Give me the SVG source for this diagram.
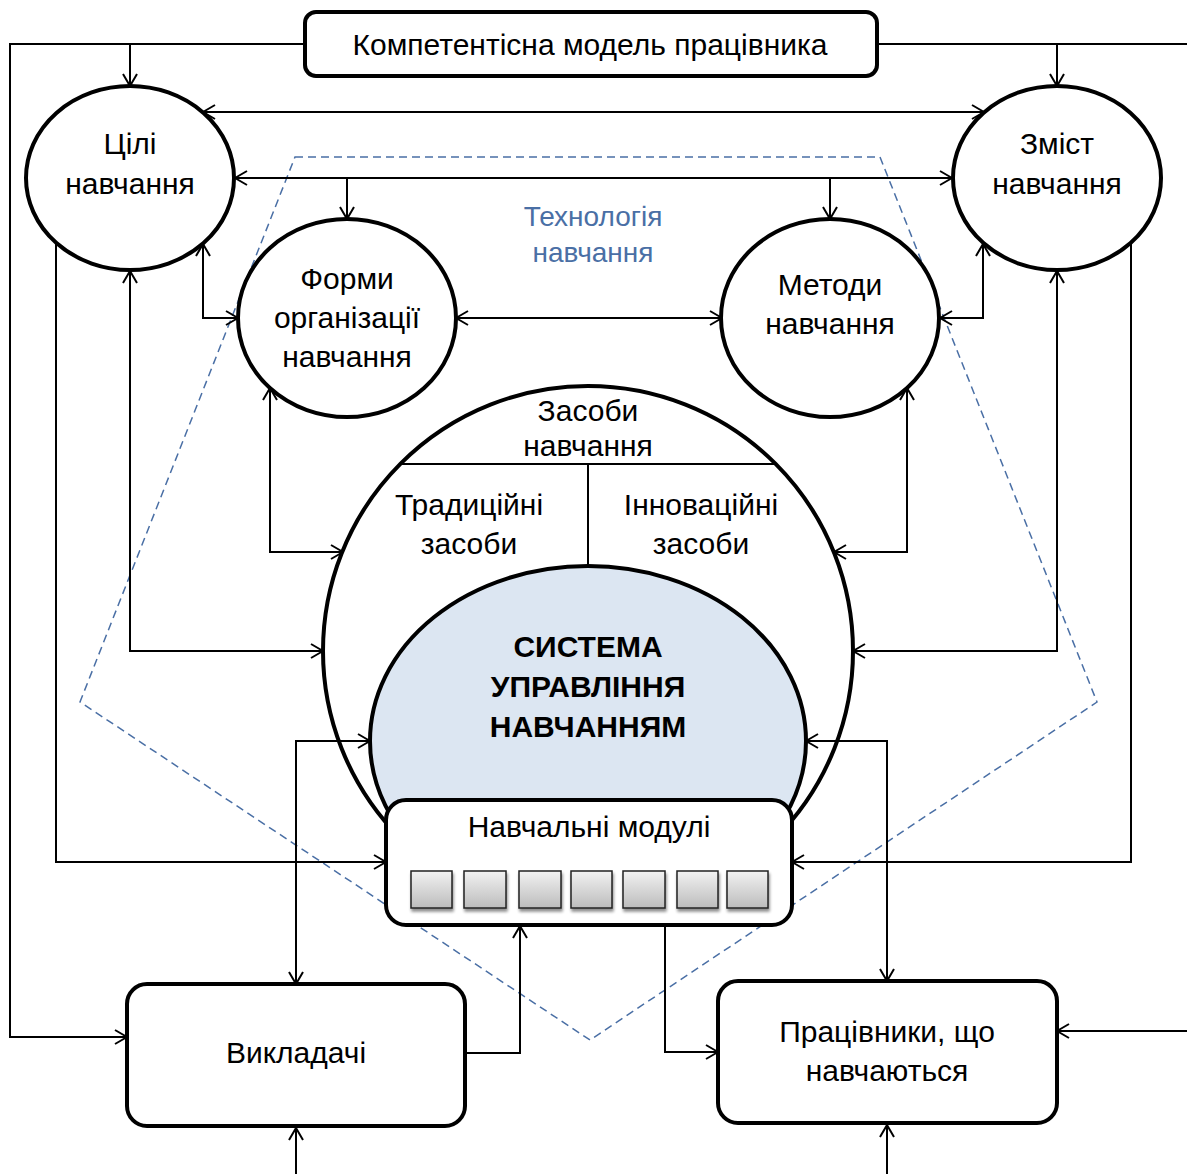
<svg xmlns="http://www.w3.org/2000/svg" width="1187" height="1174" viewBox="0 0 1187 1174">
<style>
text{font-family:"Liberation Sans",Arial,sans-serif;font-size:30px;fill:#000;text-anchor:middle}
.b{font-weight:bold}
.tech{fill:#4a6fa5;font-size:28px}
.node{fill:#fff;stroke:#000;stroke-width:4}
.c{fill:none;stroke:#000;stroke-width:2}
.sq{fill:url(#g);stroke:#222;stroke-width:1.5;filter:url(#sh)}
</style>
<defs>
<marker id="a" viewBox="0 0 14 16" refX="13" refY="8" markerWidth="14" markerHeight="16" markerUnits="userSpaceOnUse" orient="auto-start-reverse">
<path d="M1,1 L13,8 L1,15" fill="none" stroke="#000" stroke-width="2"/>
</marker>
<linearGradient id="g" x1="0" y1="0" x2="0" y2="1">
<stop offset="0" stop-color="#f2f2f2"/><stop offset="1" stop-color="#bcbcbc"/>
</linearGradient>
<filter id="sh" x="-20%" y="-20%" width="150%" height="160%">
<feGaussianBlur in="SourceAlpha" stdDeviation="1.5"/>
<feOffset dx="1" dy="3" result="o"/>
<feComponentTransfer><feFuncA type="linear" slope="0.45"/></feComponentTransfer>
<feMerge><feMergeNode/><feMergeNode in="SourceGraphic"/></feMerge>
</filter>
</defs>
<rect width="1187" height="1174" fill="#fff"/>

<g id="technology">
<polygon points="295,157 880,157 1097,702 590,1040 80,702" fill="none" stroke="#4a6fa5" stroke-width="1.5" stroke-dasharray="8,5"/>
<text class="tech" x="593" y="226">Технологія</text>
<text class="tech" x="593" y="262">навчання</text>
</g>

<g id="model">
<rect class="node" x="305" y="12" width="572" height="64" rx="11"/>
<text x="590" y="55">Компетентісна модель працівника</text>
</g>

<g id="goals">
<ellipse class="node" cx="130" cy="178" rx="104" ry="92"/>
<text x="130" y="154">Цілі</text>
<text x="130" y="194">навчання</text>
</g>

<g id="content">
<ellipse class="node" cx="1057" cy="178" rx="104" ry="92"/>
<text x="1057" y="154">Зміст</text>
<text x="1057" y="194">навчання</text>
</g>

<g id="forms">
<ellipse class="node" cx="347" cy="318" rx="109" ry="99"/>
<text x="347" y="289">Форми</text>
<text x="347" y="328">організації</text>
<text x="347" y="367">навчання</text>
</g>

<g id="methods">
<ellipse class="node" cx="830" cy="318" rx="109" ry="99"/>
<text x="830" y="295">Методи</text>
<text x="830" y="334">навчання</text>
</g>

<g id="means">
<circle class="node" cx="588" cy="651" r="265"/>
<line class="c" x1="399" y1="464" x2="777" y2="464"/>
<line class="c" x1="588" y1="464" x2="588" y2="568"/>
<text x="588" y="421">Засоби</text>
<text x="588" y="456">навчання</text>
<text x="469" y="515">Традиційні</text>
<text x="469" y="554">засоби</text>
<text x="701" y="515">Інноваційні</text>
<text x="701" y="554">засоби</text>
</g>

<g id="system">
<ellipse cx="588" cy="741" rx="218" ry="175" fill="#dce6f2" stroke="#000" stroke-width="4"/>
<text class="b" x="588" y="657">СИСТЕМА</text>
<text class="b" x="588" y="697">УПРАВЛІННЯ</text>
<text class="b" x="588" y="737">НАВЧАННЯМ</text>
</g>

<g id="modules">
<rect class="node" x="386" y="800" width="406" height="125" rx="20"/>
<text x="589" y="837">Навчальні модулі</text>
<rect class="sq" x="411" y="871" width="41" height="37"/>
<rect class="sq" x="464" y="871" width="42" height="37"/>
<rect class="sq" x="519" y="871" width="42" height="37"/>
<rect class="sq" x="571" y="871" width="41" height="37"/>
<rect class="sq" x="623" y="871" width="42" height="37"/>
<rect class="sq" x="677" y="871" width="41" height="37"/>
<rect class="sq" x="727" y="871" width="41" height="37"/>
</g>

<g id="teachers">
<rect class="node" x="127" y="984" width="338" height="142" rx="20"/>
<text x="296" y="1063">Викладачі</text>
</g>

<g id="learners">
<rect class="node" x="718" y="981" width="339" height="142" rx="20"/>
<text x="887" y="1042">Працівники, що</text>
<text x="887" y="1081">навчаються</text>
</g>

<g id="connectors">
<polyline class="c" points="305,44 10,44 10,1037 127,1037" marker-end="url(#a)"/>
<line class="c" x1="130" y1="44" x2="130" y2="86" marker-end="url(#a)"/>
<line class="c" x1="877" y1="44" x2="1187" y2="44"/>
<line class="c" x1="1057" y1="44" x2="1057" y2="86" marker-end="url(#a)"/>
<line class="c" x1="203" y1="112" x2="984" y2="112" marker-start="url(#a)" marker-end="url(#a)"/>
<line class="c" x1="235" y1="178" x2="952" y2="178" marker-start="url(#a)" marker-end="url(#a)"/>
<line class="c" x1="347" y1="178" x2="347" y2="219" marker-end="url(#a)"/>
<line class="c" x1="830" y1="178" x2="830" y2="219" marker-end="url(#a)"/>
<line class="c" x1="456" y1="318" x2="722" y2="318" marker-start="url(#a)" marker-end="url(#a)"/>
<polyline class="c" points="203,244 203,318 238,318" marker-start="url(#a)" marker-end="url(#a)"/>
<polyline class="c" points="983,244 983,318 940,318" marker-start="url(#a)" marker-end="url(#a)"/>
<polyline class="c" points="130,271 130,651 323,651" marker-start="url(#a)" marker-end="url(#a)"/>
<polyline class="c" points="1057,271 1057,651 853,651" marker-start="url(#a)" marker-end="url(#a)"/>
<polyline class="c" points="270,388 270,552 343,552" marker-start="url(#a)" marker-end="url(#a)"/>
<polyline class="c" points="907,388 907,552 834,552" marker-start="url(#a)" marker-end="url(#a)"/>
<polyline class="c" points="56,243 56,862 386,862" marker-end="url(#a)"/>
<polyline class="c" points="1131,243 1131,862 792,862" marker-end="url(#a)"/>
<polyline class="c" points="296,984 296,741 370,741" marker-start="url(#a)" marker-end="url(#a)"/>
<polyline class="c" points="887,981 887,741 806,741" marker-start="url(#a)" marker-end="url(#a)"/>
<polyline class="c" points="465,1053 520,1053 520,926" marker-end="url(#a)"/>
<polyline class="c" points="665,926 665,1052 718,1052" marker-end="url(#a)"/>
<line class="c" x1="296" y1="1174" x2="296" y2="1128" marker-end="url(#a)"/>
<line class="c" x1="887" y1="1174" x2="887" y2="1125" marker-end="url(#a)"/>
<line class="c" x1="1187" y1="1031" x2="1057" y2="1031" marker-end="url(#a)"/>
</g>
</svg>
